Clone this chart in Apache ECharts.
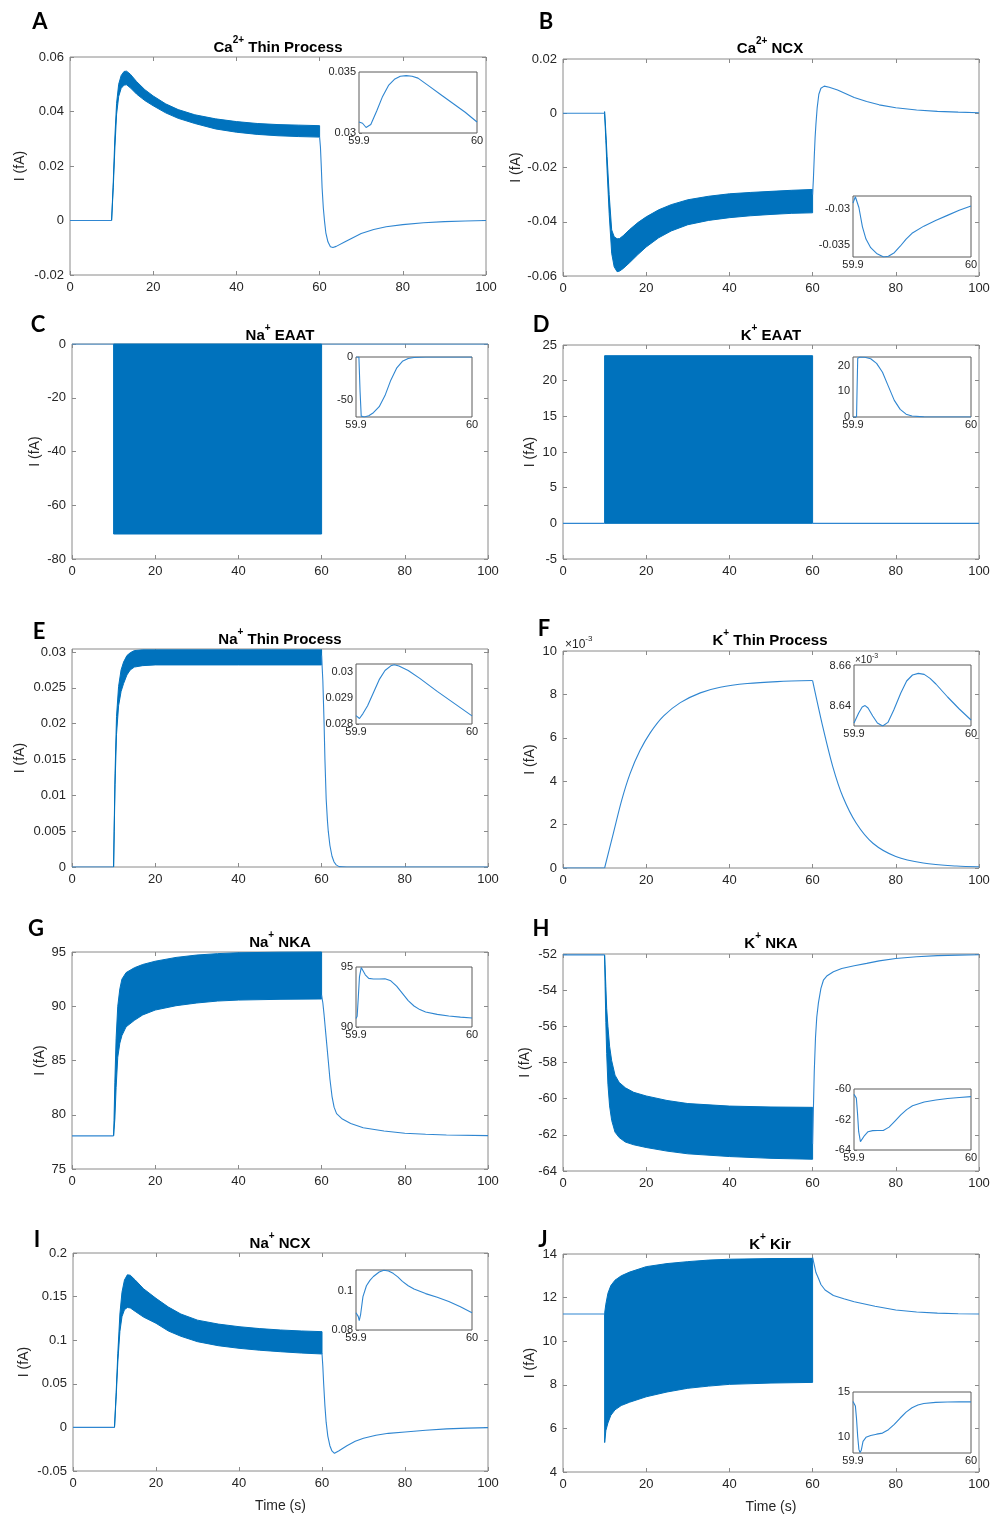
<!DOCTYPE html>
<html>
<head>
<meta charset="utf-8">
<script src="https://cdn.jsdelivr.net/npm/echarts@6/dist/echarts.min.js"></script>
<style>
  html, body { margin: 0; padding: 0; background: #fff; }
  #chart { width: 995px; height: 1515px; }
</style>
</head>
<body>
<div id="chart"></div>
<script>
// shared time ticks (s)
const xTicks = [0, 20, 40, 60, 80, 100];
const insetXTicks = [59.9, 60];

// bands are [t, lower envelope, upper envelope] of the fast oscillation

// A - Ca2+ thin process
const caThinTicks = [-0.02, 0, 0.02, 0.04, 0.06];
const caThinPre = [[0, 0], [10, 0]];
const caThinBand = [[10, 0, 0], [10.4, 0.012, 0.014], [10.8, 0.027, 0.031], [11.2, 0.039, 0.043], [11.7, 0.0455, 0.050],
  [12.3, 0.0485, 0.0532], [13, 0.0497, 0.0547], [13.6, 0.0498, 0.0548], [14.5, 0.0487, 0.0537], [16, 0.0464, 0.051],
  [18, 0.044, 0.048], [20, 0.0421, 0.0457], [23, 0.0395, 0.0428], [26, 0.0375, 0.0407], [30, 0.0356, 0.0388],
  [35, 0.0336, 0.0373], [40, 0.0324, 0.0363], [45, 0.0316, 0.0356], [50, 0.0311, 0.0352], [55, 0.0308, 0.035], [60, 0.0306, 0.0348]];
const caThinPost = [[60, 0.0306], [60.2, 0.027], [60.4, 0.02], [60.6, 0.012], [60.9, 0.0045], [61.2, -0.0005], [61.5, -0.0045],
  [62, -0.0078], [62.6, -0.0096], [63.2, -0.0099], [64, -0.0095], [66, -0.0079], [68, -0.0063], [70, -0.0048], [73, -0.0033],
  [76, -0.0023], [80, -0.0015], [85, -0.0008], [90, -0.0004], [95, -0.0002], [100, 0]];
const caThinInsetTicks = [0.03, 0.035];
const caThinInset = [[59.9, 0.0309], [59.903, 0.0308], [59.906, 0.03045], [59.91, 0.0307], [59.915, 0.0318], [59.92, 0.033],
  [59.925, 0.0339], [59.93, 0.0344], [59.935, 0.03465], [59.94, 0.0347], [59.945, 0.03465], [59.95, 0.0345], [59.96, 0.0338],
  [59.97, 0.0331], [59.98, 0.0324], [59.99, 0.0317], [60, 0.0309]];

// B - Ca2+ NCX
const caNcxTicks = [-0.06, -0.04, -0.02, 0, 0.02];
const caNcxPre = [[0, 0], [10, 0]];
const caNcxBand = [[10, 0, 0.0006], [10.3, -0.01, -0.007], [10.6, -0.021, -0.016], [11.1, -0.037, -0.03], [11.7, -0.0516, -0.043],
  [12.3, -0.0566, -0.0455], [13, -0.0584, -0.0463], [13.6, -0.0582, -0.0462], [14.5, -0.0572, -0.0451], [16, -0.0551, -0.0429],
  [18, -0.0521, -0.0403], [20, -0.0493, -0.0382], [23, -0.0459, -0.0356], [26, -0.0434, -0.0337], [30, -0.0411, -0.0319],
  [35, -0.0395, -0.0306], [40, -0.0385, -0.0297], [45, -0.0378, -0.0292], [50, -0.0373, -0.0288], [55, -0.0369, -0.0284], [60, -0.0367, -0.0281]];
const caNcxPost = [[60, -0.03], [60.2, -0.024], [60.4, -0.016], [60.6, -0.009], [60.8, -0.004], [61.1, 0.002], [61.5, 0.007],
  [62, 0.0092], [62.8, 0.01], [64, 0.0096], [66, 0.0086], [68, 0.0072], [70, 0.0058], [73, 0.0043], [76, 0.0031], [80, 0.002],
  [85, 0.0012], [90, 0.0007], [95, 0.0004], [100, 0.0002]];
const caNcxInsetTicks = [-0.035, -0.03];
const caNcxInset = [[59.9, -0.0292], [59.902, -0.0283], [59.903, -0.0282], [59.905, -0.0298], [59.908, -0.0325], [59.911, -0.0342],
  [59.915, -0.0354], [59.92, -0.0362], [59.926, -0.0367], [59.93, -0.0366], [59.935, -0.0361], [59.94, -0.0352], [59.945, -0.0342],
  [59.95, -0.0334], [59.96, -0.0324], [59.97, -0.0316], [59.98, -0.0309], [59.99, -0.0302], [60, -0.0296]];

// C - Na+ EAAT
const naEaatTicks = [-80, -60, -40, -20, 0];
const naEaatPre = [[0, 0], [10, 0]];
const naEaatBand = [[10, -70.7, 0], [60, -70.7, 0]];
const naEaatPost = [[60, 0], [100, 0]];
const naEaatInsetTicks = [-50, 0];
const naEaatInset = [[59.9, 0], [59.9025, 0], [59.9035, -40], [59.9045, -69], [59.907, -70], [59.911, -68.5], [59.915, -65],
  [59.92, -58], [59.925, -45], [59.93, -27], [59.935, -13], [59.94, -5], [59.945, -1.8], [59.95, -0.5], [59.96, 0], [60, 0]];

// D - K+ EAAT
const kEaatTicks = [-5, 0, 5, 10, 15, 20, 25];
const kEaatPre = [[0, 0], [10, 0]];
const kEaatBand = [[10, 0, 23.5], [60, 0, 23.5]];
const kEaatPost = [[60, 0], [100, 0]];
const kEaatInsetTicks = [0, 10, 20];
const kEaatInset = [[59.9, 0], [59.903, 0], [59.9035, 12], [59.904, 23], [59.906, 23.5], [59.91, 23.4], [59.915, 22.8],
  [59.92, 21], [59.925, 17.5], [59.93, 12], [59.935, 6.5], [59.94, 3], [59.945, 1.1], [59.95, 0.4], [59.96, 0.05], [60, 0]];

// E - Na+ thin process
const naThinTicks = [0, 0.005, 0.01, 0.015, 0.02, 0.025, 0.03];
const naThinPre = [[0, 0], [10, 0]];
const naThinBand = [[10, 0, 0], [10.15, 0.005, 0.006], [10.35, 0.0115, 0.013], [10.7, 0.0185, 0.021], [11.2, 0.0225, 0.0252],
  [11.8, 0.0245, 0.0275], [12.4, 0.0256, 0.0286], [13.2, 0.0268, 0.0295], [14, 0.0275, 0.0299], [15, 0.0279, 0.0302],
  [17, 0.0281, 0.0303], [20, 0.0282, 0.0303], [40, 0.0282, 0.0303], [60, 0.0282, 0.0303]];
const naThinPost = [[60, 0.0295], [60.3, 0.026], [60.6, 0.02], [60.8, 0.015], [61.1, 0.0095], [61.4, 0.0065], [61.6, 0.005],
  [62, 0.003], [62.5, 0.0015], [63, 0.0007], [63.5, 0.0003], [64.2, 0.00005], [66, 0], [100, 0]];
const naThinInsetTicks = [0.028, 0.029, 0.03];
const naThinInset = [[59.9, 0.02832], [59.9015, 0.02828], [59.903, 0.02821], [59.906, 0.0284], [59.91, 0.0287], [59.915, 0.0292],
  [59.92, 0.0297], [59.925, 0.03005], [59.93, 0.03023], [59.933, 0.03027], [59.937, 0.03022], [59.945, 0.03005], [59.955, 0.02975],
  [59.97, 0.02925], [59.985, 0.02878], [60, 0.02831]];

// F - K+ thin process (values in units of 1e-3 fA)
const kThinTicks = [0, 2, 4, 6, 8, 10];
const kThinPre = [[0, 0], [10, 0]];
const kThinRise = [[10, 0], [12.1, 1.6], [14.1, 3.12], [16.1, 4.34], [18.5, 5.41], [21, 6.24], [24.2, 7.01], [28.2, 7.62],
  [33, 8.07], [37.8, 8.33], [44.3, 8.5], [51.5, 8.59], [60, 8.64]];
const kThinDecay = [[60, 8.64], [62.5, 6.47], [64.9, 4.64], [67.3, 3.27], [70.5, 2.06],
  [74.5, 1.14], [80, 0.53], [86.6, 0.23], [94.6, 0.09], [100, 0.06]];
const kThinInsetTicks = [8.64, 8.66];
const kThinInset = [[59.9, 8.6315], [59.901, 8.6318], [59.902, 8.634], [59.904, 8.6365], [59.907, 8.6395], [59.9095, 8.6402],
  [59.912, 8.639], [59.916, 8.635], [59.92, 8.6315], [59.9245, 8.63], [59.929, 8.6318], [59.934, 8.638], [59.94, 8.6465],
  [59.945, 8.6525], [59.95, 8.6555], [59.955, 8.6563], [59.96, 8.6558], [59.965, 8.6538], [59.97, 8.651], [59.98, 8.6445],
  [59.99, 8.6385], [60, 8.633]];

// G - Na+ NKA
const naNkaTicks = [75, 80, 85, 90, 95];
const naNkaPre = [[0, 78.05], [10, 78.05]];
const naNkaBand = [[10, 78.05, 78.05], [10.1, 78.6, 79.5], [10.3, 79.6, 83], [10.6, 82.5, 87], [11, 85.3, 90], [11.5, 86.6, 91.6],
  [12, 87.3, 92.5], [13, 88.1, 93.1], [15, 88.7, 93.55], [17, 89.2, 93.85], [20, 89.65, 94.15], [25, 90.05, 94.5],
  [30, 90.3, 94.72], [35, 90.48, 94.85], [40, 90.57, 94.93], [50, 90.64, 94.98], [60, 90.67, 95]];
const naNkaPost = [[60, 91], [60.3, 90.3], [60.6, 89.2], [61, 87.5], [61.6, 85], [62, 83.3], [62.5, 81.7], [63, 80.7],
  [63.6, 80.1], [65, 79.6], [67, 79.2], [70, 78.8], [75, 78.5], [80, 78.3], [85, 78.2], [90, 78.13], [100, 78.08]];
const naNkaInsetTicks = [90, 95];
const naNkaInset = [[59.9, 90.7], [59.901, 90.9], [59.902, 92.5], [59.903, 94.2], [59.9045, 94.95], [59.906, 94.8], [59.908, 94.35],
  [59.911, 94.05], [59.915, 94], [59.92, 94], [59.925, 94.02], [59.93, 93.85], [59.935, 93.4], [59.94, 92.8], [59.945, 92.2],
  [59.95, 91.75], [59.955, 91.45], [59.96, 91.25], [59.97, 91.05], [59.98, 90.92], [59.99, 90.82], [60, 90.75]];

// H - K+ NKA
const kNkaTicks = [-64, -62, -60, -58, -56, -54, -52];
const kNkaPre = [[0, -52.05], [10, -52.05]];
const kNkaBand = [[10, -52.05, -52.05], [10.1, -53.5, -52.6], [10.3, -55.8, -53.8], [10.5, -57.5, -55], [10.8, -59.2, -56],
  [11.2, -60.4, -57.1], [11.7, -61.2, -57.9], [12.5, -61.85, -58.7], [13.5, -62.15, -59.1], [15, -62.4, -59.4],
  [17, -62.55, -59.65], [20, -62.7, -59.85], [25, -62.9, -60.1], [30, -63.05, -60.27], [40, -63.2, -60.41],
  [50, -63.3, -60.46], [60, -63.35, -60.48]];
const kNkaPost = [[60, -62.5], [60.2, -60.5], [60.4, -58.5], [60.7, -56.6], [61, -55.5], [61.4, -54.7], [62, -53.9],
  [62.6, -53.45], [63.5, -53.2], [65, -52.98], [67, -52.8], [70, -52.65], [73, -52.52], [76, -52.38], [80, -52.25],
  [85, -52.15], [90, -52.09], [95, -52.06], [100, -52.04]];
const kNkaInsetTicks = [-64, -62, -60];
const kNkaInset = [[59.9, -60.35], [59.901, -60.45], [59.902, -60.6], [59.903, -61.6], [59.904, -62.8], [59.9055, -63.45],
  [59.907, -63.35], [59.909, -63.05], [59.912, -62.8], [59.916, -62.73], [59.92, -62.72], [59.925, -62.72], [59.93, -62.5],
  [59.935, -62.1], [59.94, -61.7], [59.945, -61.35], [59.95, -61.1], [59.96, -60.85], [59.97, -60.72], [59.98, -60.62],
  [59.99, -60.56], [60, -60.5]];

// I - Na+ NCX
const naNcxTicks = [-0.05, 0, 0.05, 0.1, 0.15, 0.2];
const naNcxPre = [[0, 0], [10, 0]];
const naNcxBand = [[10, 0, 0], [10.4, 0.035, 0.04], [10.8, 0.075, 0.085], [11.3, 0.11, 0.13], [11.8, 0.127, 0.155],
  [12.4, 0.135, 0.169], [13.1, 0.1375, 0.175], [13.8, 0.137, 0.1745], [15, 0.133, 0.169], [17, 0.1265, 0.159],
  [20, 0.1194, 0.148], [23, 0.1105, 0.138], [26, 0.1045, 0.13], [30, 0.0983, 0.123], [35, 0.0937, 0.1185],
  [40, 0.0907, 0.1155], [45, 0.0885, 0.1133], [50, 0.0868, 0.1117], [55, 0.0853, 0.1106], [60, 0.0842, 0.1098]];
const naNcxPost = [[60, 0.085], [60.2, 0.07], [60.4, 0.05], [60.7, 0.025], [61, 0.006], [61.4, -0.01], [61.9, -0.021],
  [62.4, -0.027], [63, -0.0297], [64, -0.027], [66, -0.021], [68, -0.016], [70, -0.0125], [73, -0.009], [76, -0.0068],
  [80, -0.0052], [85, -0.0032], [90, -0.0017], [95, -0.0008], [100, -0.0003]];
const naNcxInsetTicks = [0.08, 0.1];
const naNcxInset = [[59.9, 0.0888], [59.901, 0.0886], [59.902, 0.0868], [59.9028, 0.0847], [59.904, 0.088], [59.906, 0.097],
  [59.909, 0.1025], [59.912, 0.1052], [59.915, 0.1072], [59.92, 0.1095], [59.924, 0.1104], [59.928, 0.11], [59.932, 0.1088],
  [59.936, 0.107], [59.94, 0.1047], [59.945, 0.1025], [59.95, 0.1008], [59.96, 0.0985], [59.97, 0.0966], [59.98, 0.0945],
  [59.99, 0.0918], [60, 0.0888]];

// J - K+ Kir
const kKirTicks = [4, 6, 8, 10, 12, 14];
const kKirPre = [[0, 11.25], [10, 11.25]];
const kKirBand = [[10, 11.25, 11.25], [10.02, 5.35, 11.3], [10.3, 5.9, 11.7], [10.8, 6.25, 12.2], [11.5, 6.6, 12.55],
  [12.5, 6.85, 12.8], [14, 7.05, 13], [16, 7.2, 13.17], [20, 7.45, 13.42], [25, 7.67, 13.56], [30, 7.84, 13.65],
  [35, 7.94, 13.72], [40, 8.02, 13.76], [50, 8.08, 13.79], [60, 8.11, 13.8]];
const kKirPost = [[60, 13.85], [60.4, 13.5], [60.8, 13.15], [61.4, 12.89], [62, 12.6], [63, 12.35], [65, 12.1], [67.5, 11.95],
  [70, 11.81], [75, 11.6], [80, 11.43], [85, 11.34], [90, 11.29], [95, 11.26], [100, 11.25]];
const kKirInsetTicks = [10, 15];
const kKirInset = [[59.9, 13.95], [59.901, 13.8], [59.902, 13.45], [59.903, 12], [59.904, 10], [59.905, 8.6], [59.906, 8.25],
  [59.907, 8.5], [59.9085, 9.5], [59.911, 9.95], [59.915, 10.15], [59.92, 10.3], [59.925, 10.42], [59.93, 10.8], [59.935, 11.4],
  [59.94, 12.1], [59.945, 12.75], [59.95, 13.25], [59.955, 13.55], [59.96, 13.72], [59.97, 13.84], [59.98, 13.88],
  [59.99, 13.9], [60, 13.9]];

const BAND = '#0072BD';
const LINE = '#2f86d1';
const AXIS = '#8a8a8a';
const INSET_AXIS = '#5a5a5a';
const TEXT = '#262626';
const FONT = '"Liberation Sans", Arial, sans-serif';

const fmt = v => String(Number(Number(v).toPrecision(8)));

// layout: box/inset = [left, top, width, height]
const panels = [
  { letter: 'A', at: [40, 22], title: ['Ca', '2+', ' Thin Process'], titleAt: [278, 45], box: [70, 57, 416, 218], nameGap: 43,
    y: [-0.02, 0.06], ticks: caThinTicks, band: caThinBand, lines: [caThinPre, caThinPost],
    inset: [359, 72, 118, 61], iy: [0.03, 0.035], iticks: caThinInsetTicks, iline: caThinInset },
  { letter: 'B', at: [546, 22], title: ['Ca', '2+', ' NCX'], titleAt: [770, 46], box: [563, 59, 416, 217], nameGap: 40,
    y: [-0.06, 0.02], ticks: caNcxTicks, band: caNcxBand, lines: [caNcxPre, caNcxPost],
    inset: [853, 196, 118, 61], iy: [-0.0367, -0.0282], iticks: caNcxInsetTicks, iline: caNcxInset },
  { letter: 'C', at: [38, 325], title: ['Na', '+', ' EAAT'], titleAt: [280, 333], box: [72, 344, 416, 215], nameGap: 30,
    y: [-80, 0], ticks: naEaatTicks, band: naEaatBand, lines: [naEaatPre, naEaatPost],
    inset: [356, 357, 116, 60], iy: [-70, 0], iticks: naEaatInsetTicks, iline: naEaatInset },
  { letter: 'D', at: [541, 325], title: ['K', '+', ' EAAT'], titleAt: [771, 333], box: [563, 345, 416, 214], nameGap: 26,
    y: [-5, 25], ticks: kEaatTicks, band: kEaatBand, lines: [kEaatPre, kEaatPost],
    inset: [853, 357, 118, 60], iy: [0, 23.5], iticks: kEaatInsetTicks, iline: kEaatInset },
  { letter: 'E', at: [39, 632], title: ['Na', '+', ' Thin Process'], titleAt: [280, 637], box: [72, 649, 416, 218], nameGap: 45,
    y: [0, 0.03042], ticks: naThinTicks, band: naThinBand, lines: [naThinPre, naThinPost],
    inset: [356, 664, 116, 60], iy: [0.028, 0.0303], iticks: naThinInsetTicks, iline: naThinInset },
  { letter: 'F', at: [544, 629], title: ['K', '+', ' Thin Process'], titleAt: [770, 638], box: [563, 651, 416, 217], nameGap: 26,
    y: [0, 10], ticks: kThinTicks, lines: [kThinPre], smoothLines: [kThinRise, kThinDecay], scale: [565, 643],
    inset: [854, 665, 117, 61], iy: [8.63, 8.6605], iticks: kThinInsetTicks, iline: kThinInset, iscale: [855, 659] },
  { letter: 'G', at: [36, 929], title: ['Na', '+', ' NKA'], titleAt: [280, 940], box: [72, 952, 416, 217], nameGap: 24,
    y: [75, 95], ticks: naNkaTicks, band: naNkaBand, lines: [naNkaPre, naNkaPost],
    inset: [356, 967, 116, 60], iy: [90, 95], iticks: naNkaInsetTicks, iline: naNkaInset },
  { letter: 'H', at: [541, 929], title: ['K', '+', ' NKA'], titleAt: [771, 941], box: [563, 954, 416, 217], nameGap: 31,
    y: [-64, -52], ticks: kNkaTicks, band: kNkaBand, lines: [kNkaPre, kNkaPost],
    inset: [854, 1089, 117, 61], iy: [-64, -60], iticks: kNkaInsetTicks, iline: kNkaInset },
  { letter: 'I', at: [37, 1240], title: ['Na', '+', ' NCX'], titleAt: [280, 1241], box: [73, 1253, 415, 218], nameGap: 42,
    y: [-0.05, 0.2], ticks: naNcxTicks, band: naNcxBand, lines: [naNcxPre, naNcxPost], xName: 'Time (s)',
    inset: [356, 1270, 116, 60], iy: [0.08, 0.1105], iticks: naNcxInsetTicks, iline: naNcxInset },
  { letter: 'J', at: [543, 1240], title: ['K', '+', ' Kir'], titleAt: [770, 1242], box: [563, 1254, 416, 218], nameGap: 26,
    y: [4, 14], ticks: kKirTicks, band: kKirBand, lines: [kKirPre, kKirPost], xName: 'Time (s)',
    inset: [853, 1392, 118, 61], iy: [8.2, 15], iticks: kKirInsetTicks, iline: kKirInset }
];

const grid = [], xAxis = [], yAxis = [], series = [], graphic = [];

function valueAxis(gridIndex, position, min, max, ticks, showLabel, fontSize, margin, tickLen) {
  return {
    type: 'value', gridIndex, position, min, max,
    axisLine: { show: false, onZero: false },
    splitLine: { show: false },
    axisTick: { show: tickLen > 0, inside: true, length: tickLen, customValues: ticks, lineStyle: { color: AXIS } },
    axisLabel: { show: showLabel, customValues: ticks, formatter: fmt, color: TEXT, fontSize, fontFamily: FONT, margin }
  };
}

function lineSeries(data, xi, yi, smooth) {
  return { type: 'line', xAxisIndex: xi, yAxisIndex: yi, data, showSymbol: false, symbol: 'none', silent: true,
    smooth: smooth || false, lineStyle: { color: LINE, width: 1.1 }, z: 3 };
}

function bandSeries(band, xi, yi) {
  return {
    type: 'custom', xAxisIndex: xi, yAxisIndex: yi, data: band, silent: true, z: 2,
    renderItem: (params, api) => {
      if (params.dataIndex !== 0) return null;
      const upper = band.map(d => api.coord([d[0], d[2]]));
      const lower = band.slice().reverse().map(d => api.coord([d[0], d[1]]));
      return { type: 'polygon', shape: { points: upper.concat(lower) },
        style: { fill: BAND, stroke: BAND, lineWidth: 1 } };
    }
  };
}

function richTitle(parts) {
  return '{n|' + parts[0] + '}{s|' + parts[1] + '}{n|' + parts[2] + '}';
}

panels.forEach(p => {
  // main plot
  const g = grid.length;
  grid.push({ left: p.box[0], top: p.box[1], width: p.box[2], height: p.box[3], show: true,
    borderColor: AXIS, borderWidth: 1, backgroundColor: 'rgba(0,0,0,0)', containLabel: false, outerBoundsMode: 'none' });
  const xi = xAxis.length;
  const xb = valueAxis(g, 'bottom', 0, 100, xTicks, true, 13, 6, 4);
  if (p.xName) {
    Object.assign(xb, { name: p.xName, nameLocation: 'middle', nameGap: 28,
      nameTextStyle: { color: TEXT, fontSize: 14, fontFamily: FONT } });
  }
  xAxis.push(xb);
  xAxis.push(valueAxis(g, 'top', 0, 100, xTicks, false, 13, 6, 4));
  const yi = yAxis.length;
  const yl = valueAxis(g, 'left', p.y[0], p.y[1], p.ticks, true, 13, 6, 4);
  Object.assign(yl, { name: 'I (fA)', nameLocation: 'middle', nameGap: p.nameGap,
    nameTextStyle: { color: TEXT, fontSize: 14, fontFamily: FONT } });
  yAxis.push(yl);
  yAxis.push(valueAxis(g, 'right', p.y[0], p.y[1], p.ticks, false, 13, 6, 4));

  if (p.band) series.push(bandSeries(p.band, xi, yi));
  p.lines.forEach(l => series.push(lineSeries(l, xi, yi)));
  (p.smoothLines || []).forEach(l => series.push(lineSeries(l, xi, yi, 0.3)));

  // inset 59.9 - 60 s
  const gi = grid.length;
  grid.push({ left: p.inset[0], top: p.inset[1], width: p.inset[2], height: p.inset[3], show: true,
    borderColor: INSET_AXIS, borderWidth: 1, backgroundColor: '#fff', containLabel: false, outerBoundsMode: 'none', z: 5 });
  const ixi = xAxis.length;
  xAxis.push(valueAxis(gi, 'bottom', 59.9, 60, insetXTicks, true, 11, 2, 0));
  const iyi = yAxis.length;
  yAxis.push(valueAxis(gi, 'left', p.iy[0], p.iy[1], p.iticks, true, 11, 3, 3));
  const ls = lineSeries(p.iline, ixi, iyi);
  ls.z = 6;
  series.push(ls);

  // panel letter and title
  graphic.push({ type: 'text', x: p.at[0], y: p.at[1], silent: true,
    style: { text: p.letter, font: 'bold 22px Lato, "Liberation Sans", sans-serif', fill: '#000',
      align: 'center', verticalAlign: 'middle' } });
  graphic.push({ type: 'text', x: p.titleAt[0], y: p.titleAt[1], silent: true,
    style: { text: richTitle(p.title), align: 'center', verticalAlign: 'middle',
      rich: {
        n: { fontSize: 15, fontWeight: 'bold', fontFamily: FONT, fill: '#000', lineHeight: 20, verticalAlign: 'bottom' },
        s: { fontSize: 10, fontWeight: 'bold', fontFamily: FONT, fill: '#000', lineHeight: 11, verticalAlign: 'top' }
      } } });
  if (p.scale) {
    graphic.push({ type: 'text', x: p.scale[0], y: p.scale[1], silent: true,
      style: { text: '{a|\u00d710}{b|-3}', align: 'left', verticalAlign: 'middle',
        rich: { a: { fontSize: 12, fontFamily: FONT, fill: TEXT, lineHeight: 16, verticalAlign: 'bottom' },
                b: { fontSize: 8, fontFamily: FONT, fill: TEXT, lineHeight: 9, verticalAlign: 'top' } } } });
  }
  if (p.iscale) {
    graphic.push({ type: 'text', x: p.iscale[0], y: p.iscale[1], silent: true, z: 10,
      style: { text: '{a|\u00d710}{b|-3}', align: 'left', verticalAlign: 'middle',
        rich: { a: { fontSize: 10, fontFamily: FONT, fill: TEXT, lineHeight: 13, verticalAlign: 'bottom' },
                b: { fontSize: 7, fontFamily: FONT, fill: TEXT, lineHeight: 8, verticalAlign: 'top' } } } });
  }
});

const chart = echarts.init(document.getElementById('chart'), null, { renderer: 'canvas' });
chart.setOption({
  backgroundColor: '#fff',
  animation: false,
  textStyle: { fontFamily: FONT },
  grid, xAxis, yAxis, series, graphic
});
window.addEventListener('resize', () => chart.resize());
</script>
</body>
</html>
